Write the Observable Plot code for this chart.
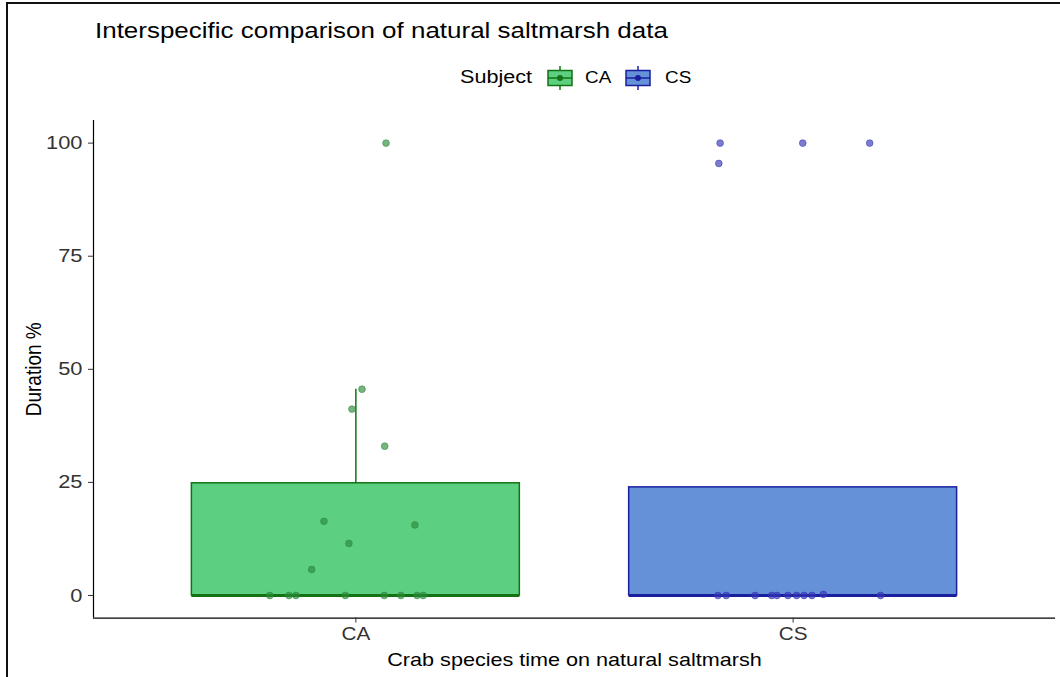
<!DOCTYPE html>
<html>
<head>
<meta charset="utf-8">
<script src="https://cdn.jsdelivr.net/npm/d3@7"></script>
<script src="https://cdn.jsdelivr.net/npm/@observablehq/plot@0.6"></script>
<style>
  html, body { margin: 0; padding: 0; background: #fff; overflow: hidden; }
  #wrap { position: relative; width: 1060px; height: 677px; overflow: hidden; font-family: "Liberation Sans", Arial, sans-serif; }
  #frame { position: absolute; left: 6px; top: 2px; width: 1100px; height: 700px; border-top: 2px solid #111; border-left: 2px solid #111; box-sizing: border-box; }
  #header { position: relative; height: 97px; }
  #title { position: absolute; left: 95px; top: 18px; font-size: 22px; color: #000; white-space: nowrap; transform: scaleX(1.18); transform-origin: left center; }
  .leg { position: absolute; white-space: nowrap; color: #000; transform-origin: left center; }
  #plot svg { display: block; }
</style>
</head>
<body>
<div id="wrap">
  <div id="frame"></div>
  <div id="header">
    <div id="title">Interspecific comparison of natural saltmarsh data</div>
  </div>
  <div id="plot"></div>
</div>
<script>
// ---- data ----
const categories = ["CA", "CS"];
const legendTitle = "Subject";
const fillColors = ["#5dcf80", "#6591d8"];
const strokeColors = ["#137313", "#1a1f9e"];
const pointColors = ["#2b8a3b", "#3535b5"];

// box summary (Duration %)
const q1 = [0, 0];
const median = [0, 0];
const q3 = [24.8, 23.9];
const whiskerHigh = [45.6, 23.9];

// jittered observations: value and horizontal jitter (in category units)
const caValues = [45.6, 41.2, 33.0, 16.4, 15.6, 11.5, 5.75, 100, 0, 0, 0, 0, 0, 0, 0, 0];
const caJitter = [0.014, -0.009, 0.066, -0.073, 0.135, -0.016, -0.101, 0.069, -0.197, -0.153, -0.137, -0.024, 0.065, 0.103, 0.140, 0.154];
const csValues = [0, 0, 0, 0, 0, 0, 0, 0, 0, 0, 0.25, 100, 100, 100, 95.5];
const csJitter = [-0.172, -0.153, -0.087, -0.049, -0.037, -0.012, 0.008, 0.025, 0.043, 0.200, 0.069, -0.167, 0.022, 0.175, -0.170];

const yTicks = [0, 25, 50, 75, 100];
const xTitle = "Crab species time on natural saltmarsh";
const yTitle = "Duration %";

// ---- build tables ----
const boxes = categories.map((c, i) => ({
  cat: c, pos: i + 1, q1: q1[i], median: median[i], q3: q3[i], hi: whiskerHigh[i], i
}));
const points = [
  ...caValues.map((v, k) => ({cat: "CA", i: 0, x: 1 + caJitter[k], y: v})),
  ...csValues.map((v, k) => ({cat: "CS", i: 1, x: 2 + csJitter[k], y: v}))
];
const halfW = 0.375;

const marks = [];
boxes.forEach(b => {
  marks.push(Plot.ruleX([b], {x: "pos", y1: "q3", y2: "hi", stroke: strokeColors[b.i], strokeWidth: 1.5}));
  marks.push(Plot.rect([b], {x1: d => d.pos - halfW, x2: d => d.pos + halfW, y1: "q1", y2: "q3",
    fill: fillColors[b.i], stroke: strokeColors[b.i], strokeWidth: 1.5}));
  marks.push(Plot.ruleY([b], {y: "median", x1: d => d.pos - halfW, x2: d => d.pos + halfW,
    stroke: strokeColors[b.i], strokeWidth: 3}));
});
categories.forEach((c, i) => {
  marks.push(Plot.dot(points.filter(p => p.i === i), {x: "x", y: "y", r: 3.4,
    fill: pointColors[i], stroke: pointColors[i], fillOpacity: 0.65, strokeOpacity: 0.65, strokeWidth: 0.8}));
});
marks.push(Plot.ruleY([-5], {stroke: "#000", strokeWidth: 1.2}));
marks.push(Plot.ruleX([0.4], {stroke: "#000", strokeWidth: 1.2}));
marks.push(Plot.axisY({ticks: yTicks, tickSize: 5, tickPadding: 6, fontSize: 19, color: "#333",
  label: yTitle, labelAnchor: "center", labelArrow: "none", labelOffset: 69}));
marks.push(Plot.axisX({ticks: [1, 2], tickFormat: d => categories[d - 1], tickSize: 5, tickPadding: 4,
  fontSize: 18, color: "#333", label: xTitle, labelAnchor: "center", labelArrow: "none", labelOffset: 48}));

const chart = Plot.plot({
  width: 1060,
  height: 580,
  marginTop: 23,
  marginBottom: 59.4,
  marginLeft: 93,
  marginRight: 5,
  style: {fontFamily: "'Liberation Sans', Arial, sans-serif", background: "transparent", overflow: "visible"},
  x: {domain: [0.4, 2.6]},
  y: {domain: [-5, 105]},
  marks
});
document.getElementById("plot").appendChild(chart);

// widen text horizontally (the reference text is horizontally stretched)
function stretch(sel, sx, pre) {
  sel.each(function () {
    let t = this.getAttribute("transform");
    if (!t) {
      const x = +this.getAttribute("x") || 0, y = +this.getAttribute("y") || 0;
      this.removeAttribute("x"); this.removeAttribute("y");
      t = `translate(${x},${y})`;
    }
    if (pre) {
      t = t.replace(/(translate\([^)]*\))/, `$1 scale(${sx},1)`);
    } else {
      t = t + ` scale(${sx},1)`;
    }
    this.setAttribute("transform", t);
  });
}
const svg = d3.select(chart);
stretch(svg.selectAll("g[aria-label='y-axis tick label'] text"), 1.15, false);
stretch(svg.selectAll("g[aria-label='x-axis tick label'] text"), 1.15, false);
svg.selectAll("g[aria-label='x-axis label'] text").style("font-size", "18px").style("fill", "#000");
svg.selectAll("g[aria-label='y-axis label'] text").style("font-size", "19px").style("fill", "#000");
stretch(svg.selectAll("g[aria-label='x-axis label'] text"), 1.2, false);
stretch(svg.selectAll("g[aria-label='y-axis label'] text"), 1.2, true);

// ---- legend ----
const header = d3.select("#header");
const legCenter = 78;
header.append("div").attr("class", "leg").text(legendTitle)
  .style("left", "460px").style("top", (legCenter - 11) + "px").style("font-size", "18px")
  .style("transform", "scaleX(1.2)");
const keyX = [547, 625];
const labX = [585, 665];
categories.forEach((c, i) => {
  const s = header.append("svg").attr("width", 26).attr("height", 24)
    .style("position", "absolute").style("left", keyX[i] + "px").style("top", (legCenter - 12) + "px");
  s.append("line").attr("x1", 13).attr("x2", 13).attr("y1", 0).attr("y2", 24).attr("stroke", strokeColors[i]).attr("stroke-width", 1.5);
  s.append("rect").attr("x", 1).attr("y", 4.5).attr("width", 24).attr("height", 15)
    .attr("fill", fillColors[i]).attr("stroke", strokeColors[i]).attr("stroke-width", 1.5);
  s.append("line").attr("x1", 1).attr("x2", 25).attr("y1", 12).attr("y2", 12).attr("stroke", strokeColors[i]).attr("stroke-width", 1.5);
  s.append("circle").attr("cx", 13).attr("cy", 12).attr("r", 3).attr("fill", strokeColors[i]);
  header.append("div").attr("class", "leg").text(c)
    .style("left", labX[i] + "px").style("top", (legCenter - 9.5) + "px").style("font-size", "16px")
    .style("transform", "scaleX(1.18)");
});
</script>
</body>
</html>
